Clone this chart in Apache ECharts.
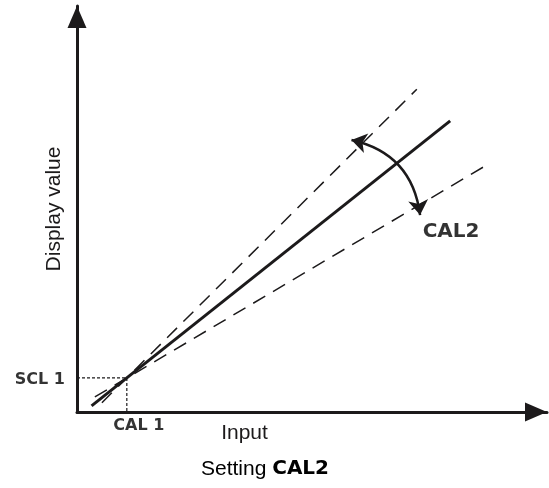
<!DOCTYPE html>
<html><head><meta charset="utf-8">
<script src="https://cdn.jsdelivr.net/npm/echarts@6/dist/echarts.min.js"></script>
<style>html,body{margin:0;padding:0;background:#fff}#c{width:549px;height:488px}</style>
</head><body><div id="c"></div>
<script>
// ---- data ----
const axisMin = 0, axisMax = 100;
const CAL1 = 10.6;          // input calibration point 1
const SCL1 = 8.4;           // display value at point 1
const solidLine = [[3.1, 1.5], [79.4, 71.7]];
const steepDashed = [[5.3, 2.3], [72.3, 79.5]];
const shallowDashed = [[3.8, 3.7], [86.4, 60.3]];
const arcEnds = [[58.4, 67.0], [73.0, 48.5]];
const guidePoints = [[0, SCL1], [CAL1, SCL1], [CAL1, 0]];
const yTitle = 'Display value';
const xTitle = 'Input';
const captionText = 'Setting ';
const captionCode = 'CAL2';
const labelSCL1 = 'SCL 1';
const labelCAL1 = 'CAL 1';
const labelCAL2 = 'CAL2';

// ---- chart ----
const INK = '#1c1a1b';
const SEG = 'DejaVu Sans';
const chart = echarts.init(document.getElementById('c'), null, {renderer: 'canvas'});
const axisCommon = {
  type: 'value', min: axisMin, max: axisMax,
  splitLine: {show: false}, axisTick: {show: false}, axisLabel: {show: false},
  axisLine: {show: true, symbol: ['none', 'triangle'], symbolSize: [19, 22], symbolOffset: [0, -11],
    lineStyle: {color: INK, width: 3}}
};
chart.setOption({
  animation: false,
  backgroundColor: '#fff',
  grid: {left: 77, right: 2, top: 6, bottom: 76},
  xAxis: Object.assign({}, axisCommon),
  yAxis: Object.assign({}, axisCommon, {
    name: yTitle, nameLocation: 'middle', nameRotate: 90, nameGap: 12,
    nameTextStyle: {fontFamily: 'Liberation Sans', fontSize: 21, color: INK}
  }),
  series: [
    {type: 'line', data: guidePoints, symbol: 'none', z: 1,
      lineStyle: {color: INK, width: 1.2, type: [3, 2]}},
    {type: 'line', data: steepDashed, symbol: 'none',
      lineStyle: {color: INK, width: 1.5, type: [14, 9]}},
    {type: 'line', data: shallowDashed, symbol: 'none',
      lineStyle: {color: INK, width: 1.5, type: [14, 9]}},
    {type: 'line', data: solidLine, symbol: 'none',
      lineStyle: {color: INK, width: 3}},
    {type: 'lines', coordinateSystem: 'cartesian2d',
      symbol: ['arrow', 'arrow'], symbolSize: 15,
      lineStyle: {color: INK, width: 2.5, curveness: 0.35, opacity: 1},
      data: [{coords: arcEnds}]},
    {type: 'scatter', symbolSize: 0, silent: true,
      label: {show: true, position: 'inside', color: '#000', fontFamily: SEG, fontWeight: 'bold'},
      data: [
        {value: [0, SCL1], label: {formatter: labelSCL1, fontSize: 16, align: 'right', verticalAlign: 'middle', offset: [-12, 2]}},
        {value: [CAL1, 0], label: {formatter: labelCAL1, fontSize: 16, align: 'center', verticalAlign: 'middle', offset: [12, 14]}},
        {value: arcEnds[1], label: {formatter: labelCAL2, fontSize: 20, align: 'center', verticalAlign: 'middle', offset: [31, 17]}}
      ]}
  ],
  graphic: [
    {type: 'text', x: 244.5, y: 433, silent: true,
      style: {text: xTitle, font: '21px "Liberation Sans"', fill: INK, align: 'center', verticalAlign: 'middle'}},
    {type: 'text', x: 201, y: 469, silent: true,
      style: {text: '{a|' + captionText + '}{b|' + captionCode + '}', align: 'left', verticalAlign: 'middle',
        rich: {a: {fontFamily: 'Liberation Sans', fontSize: 21, color: INK},
               b: {fontFamily: SEG, fontWeight: 'bold', fontSize: 20, color: '#000'}}}}
  ]
});
</script></body></html>
